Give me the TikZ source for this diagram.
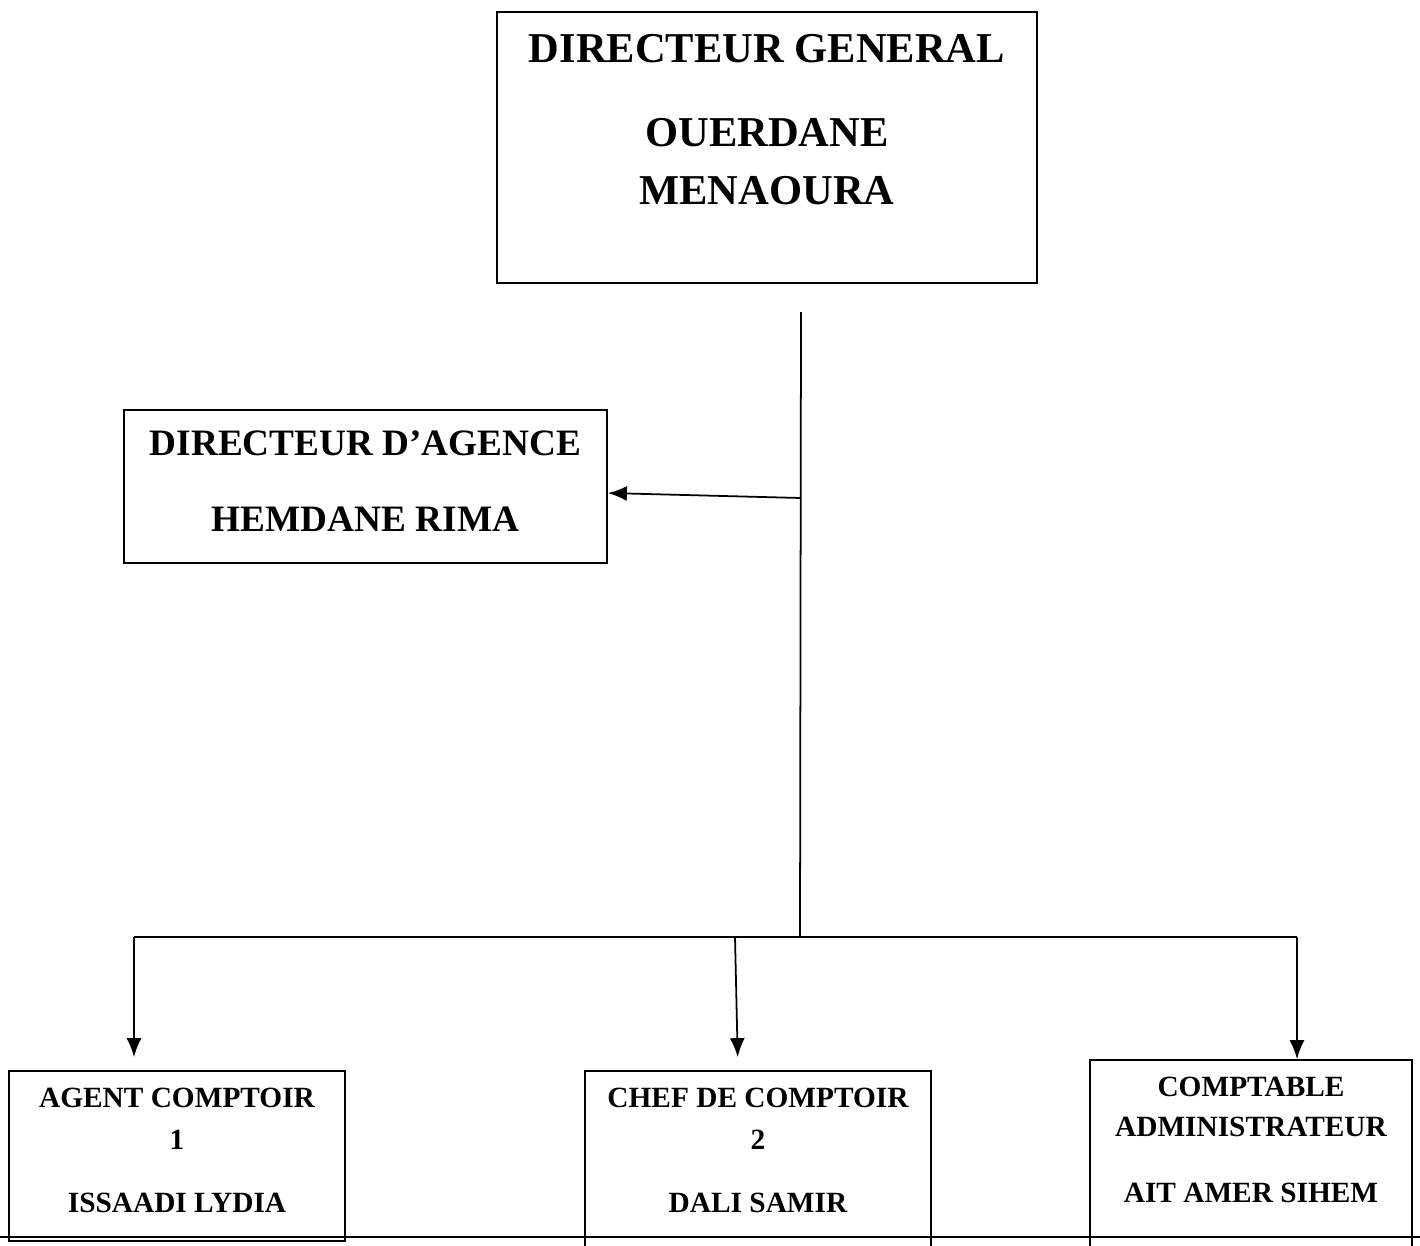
\documentclass[tikz,border=0pt]{standalone}
\usepackage{fontspec}
\setmainfont{Liberation Serif}
\usetikzlibrary{arrows.meta,positioning}

\begin{document}
\begin{tikzpicture}[
    every node/.style={inner sep=0pt},
    box/.style={draw=black, line width=1pt, fill=white},
    bigtext/.style={font=\fontsize{24.2}{28}\selectfont\bfseries, anchor=center},
    midtext/.style={font=\fontsize{21.2}{25}\selectfont\bfseries, anchor=center},
    smalltext/.style={font=\fontsize{16.7}{20}\selectfont\bfseries, anchor=center},
    link/.style={line width=1pt, -{Latex[length=0.38cm,width=0.3cm]}}
]

% Page frame
\useasboundingbox (0,0) rectangle (28.4,-24.9);

% Director general
\node[box, minimum width=10.8cm, minimum height=5.42cm] (dg) at (15.34,-2.95) {};
\node[bigtext] at ([yshift=-0.76cm]dg.north) {DIRECTEUR GENERAL};
\node[bigtext] at ([yshift=-2.42cm]dg.north) {OUERDANE};
\node[bigtext] at ([yshift=-3.58cm]dg.north) {MENAOURA};

% Agency director
\node[box, minimum width=9.66cm, minimum height=3.06cm] (agence) at (7.31,-9.73) {};
\node[midtext] at ([yshift=-0.68cm]agence.north) {DIRECTEUR D’AGENCE};
\node[midtext] at ([yshift=-2.2cm]agence.north) {HEMDANE RIMA};

% Counter staff and accountant
\node[box, minimum width=6.72cm, minimum height=3.4cm] (agent) at (3.54,-23.12) {};
\node[smalltext] at ([yshift=-0.56cm]agent.north) {AGENT COMPTOIR};
\node[smalltext] at ([yshift=-1.40cm]agent.north) {1};
\node[smalltext] at ([yshift=-2.66cm]agent.north) {ISSAADI LYDIA};

\node[box, minimum width=6.92cm, minimum height=3.88cm] (chef) at (15.16,-23.36) {};
\node[smalltext] at ([yshift=-0.56cm]chef.north) {CHEF DE COMPTOIR};
\node[smalltext] at ([yshift=-1.40cm]chef.north) {2};
\node[smalltext] at ([yshift=-2.66cm]chef.north) {DALI SAMIR};

\node[box, minimum width=6.44cm, minimum height=4.1cm] (compta) at (25.02,-23.25) {};
\node[smalltext] at ([yshift=-0.56cm]compta.north) {COMPTABLE};
\node[smalltext] at ([yshift=-1.36cm]compta.north) {ADMINISTRATEUR};
\node[smalltext] at ([yshift=-2.68cm]compta.north) {AIT AMER SIHEM};

% Connectors
\coordinate (stemtop) at (16.02,-6.24);
\coordinate (stemjoin) at (16.02,-9.96);
\coordinate (stembot) at (16.0,-18.74);
\coordinate (barleft) at (2.68,-18.74);
\coordinate (barmid) at (14.7,-18.74);
\coordinate (barright) at (25.94,-18.74);

\draw[line width=1pt] (stemtop) -- (stembot);
\draw[link] (stemjoin) -- ([yshift=-0.13cm]agence.east);
\draw[line width=1pt] (barleft) -- (barright);
\draw[link, shorten >=0.26cm] (barleft) -- (barleft |- agent.north);
\draw[link, shorten >=0.26cm] (barmid) -- ([xshift=-0.4cm]chef.north);
\draw[link] (barright) -- (barright |- compta.north);

% Bottom rule
\draw[line width=1.3pt] (0,-24.74) -- (28.4,-24.74);

\end{tikzpicture}
\end{document}
